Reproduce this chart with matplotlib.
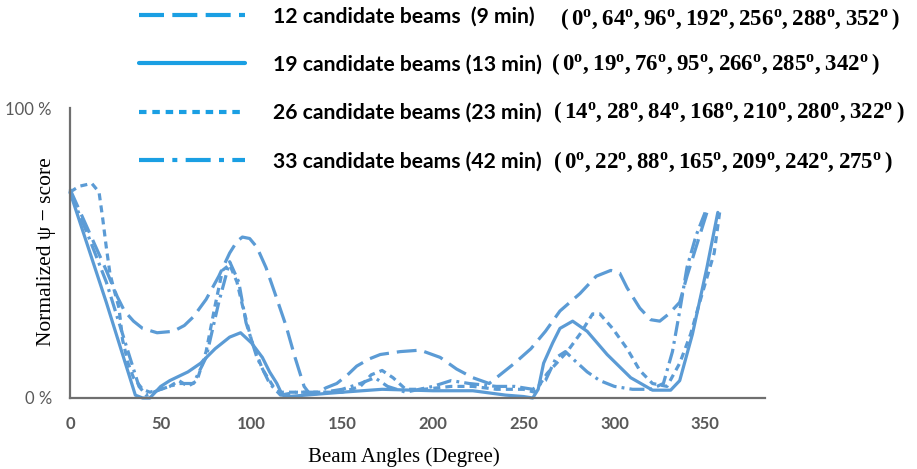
import matplotlib
matplotlib.use("Agg")
import matplotlib.pyplot as plt
from matplotlib.lines import Line2D

# beam angle (degree) vs normalized psi-score (%)
ang_12 = [0, 10, 20, 26, 30, 35, 40, 48, 57, 63, 68, 75, 82, 88, 92, 95, 99, 103, 108, 113,
          119, 124, 129, 132, 136, 141, 147, 153, 158, 165, 171, 182, 193, 204, 213, 222, 231,
          237, 245, 254, 262, 270, 281, 290, 298, 303, 307, 314, 320, 325, 330, 336, 340, 345, 351]
score_12 = [72, 58, 44, 35, 30, 26.5, 24, 22.5, 23, 25, 28, 34, 42, 50, 54, 55.5, 55, 52, 45, 36,
            25, 14, 4, 1.5, 1.5, 3.5, 5, 8, 11, 13.5, 15, 16, 16.5, 14, 10, 7, 5,
            8, 12, 17, 23, 30, 36, 42, 44, 43, 38, 31, 27, 26.5, 29, 33, 42, 52, 64]

ang_19 = [0, 10, 20, 30, 36, 40, 44, 50, 55, 65, 72, 80, 88, 94, 100, 106, 110, 114, 117, 120,
          130, 150, 172, 200, 222, 240, 250, 255, 258, 261, 266, 270, 277, 285, 296, 309, 321,
          331, 336, 343, 351, 357]
score_19 = [71, 52, 33, 13, 1, 0, 0, 4, 6, 9, 12, 17, 21, 22.5, 19, 14, 9, 5, 1, 0.5,
            1, 2, 3, 2.5, 2.5, 1, 0.5, 0, 3, 12, 19, 24, 26.5, 23, 15, 7, 2.7,
            2.7, 6, 22, 45, 64]

ang_26 = [0, 5, 12, 16, 18, 20, 22, 24, 27, 29, 32, 35, 40, 44, 50, 55, 60, 65, 70, 75, 80, 84,
          88, 92, 95, 100, 106, 112, 116, 125, 140, 150, 160, 166, 172, 178, 185, 195, 210, 222,
          235, 250, 256, 263, 274, 281, 288, 292, 299, 307, 314, 321, 329, 336, 342, 347, 355, 358]
score_26 = [71, 73, 74, 71, 62, 52, 43, 38, 31, 20, 12, 7, 3, 2, 3, 4, 6, 4, 6, 16, 32, 44,
            46, 40, 32, 20, 10, 4, 2, 2, 2, 2, 4, 8, 9.5, 7, 3, 3, 4, 4,
            3, 3, 2, 8.5, 16, 22, 29, 29, 24, 17, 9.5, 5, 4, 12, 22, 33, 50, 64]

ang_33 = [0, 10, 20, 30, 38, 42, 50, 60, 68, 75, 82, 88, 93, 97, 103, 110, 116, 125, 140, 150,
          160, 168, 175, 185, 200, 210, 220, 235, 245, 255, 262, 268, 273, 278, 285, 292, 300,
          310, 320, 327, 332, 336, 340, 345, 350]
score_33 = [71, 56, 40, 20, 4, 1, 3, 5, 5, 14, 33, 47, 40, 26, 14, 5, 1, 2, 2, 3,
            5, 7, 4, 2, 4, 6, 5, 4, 4, 3, 6, 14, 16, 13, 9, 6, 4,
            3, 3, 5, 16, 30, 45, 56, 64]

legend_labels = ["12 candidate beams  (9 min)", "19 candidate beams (13 min)",
                 "26 candidate beams (23 min)", "33 candidate beams (42 min)"]
beam_sets = [[0, 64, 96, 192, 256, 288, 352],
             [0, 19, 76, 95, 266, 285, 342],
             [14, 28, 84, 168, 210, 280, 322],
             [0, 22, 88, 165, 209, 242, 275]]

curve_color = "#5b9bd5"
legend_color = "#1a9fe3"

plt.rcParams["mathtext.fontset"] = "custom"
plt.rcParams["mathtext.rm"] = "Liberation Serif"
plt.rcParams["mathtext.bf"] = "Liberation Serif:bold"

fig = plt.figure(figsize=(9.17, 4.69), dpi=100)
ax = fig.add_axes([70 / 917, 1 - 398 / 469, 695 / 917, 290 / 469])

styles = [(6.2, 2.5), None, (2.2, 1.6), (4.7, 1.6, 0.9, 1.6)]
series = [(ang_12, score_12), (ang_19, score_19), (ang_26, score_26), (ang_33, score_33)]
for (a, s), d in zip(series, styles):
    line, = ax.plot(a, s, color=curve_color, lw=2.3, clip_on=False, solid_capstyle="round")
    if d is not None:
        line.set_dashes(d)

ax.set_xlim(0, 383)
ax.set_ylim(0, 100)
for side in ["top", "right"]:
    ax.spines[side].set_visible(False)
for side in ["left", "bottom"]:
    ax.spines[side].set_color("#6f6f6f")
    ax.spines[side].set_linewidth(1.6)

ax.set_xticks(range(0, 351, 50))
ax.set_yticks([0, 100])
ax.set_yticklabels(["0 %", "100 %"])
ax.tick_params(axis="x", length=0, pad=13, labelsize=12, labelcolor="#595959")
ax.tick_params(axis="y", length=0, pad=13, labelsize=12, labelcolor="#595959")
for t in ax.get_xticklabels():
    t.set_family("Lato")
    t.set_weight("bold")
for t in ax.get_yticklabels():
    t.set_family("Lato")

fig.text(47 / 917, 1 - 252 / 469, "Normalized \u03c8 \u2212 score", rotation=90,
         ha="center", va="center", family="Liberation Serif", fontsize=15.5)
fig.text(404 / 917, 1 - 457 / 469, "Beam Angles (Degree)", ha="center", va="center",
         family="Liberation Serif", fontsize=15)

# legend
handles = [
    Line2D([], [], color=legend_color, lw=3, dashes=(6, 2)),
    Line2D([], [], color=legend_color, lw=3, solid_capstyle="round"),
    Line2D([], [], color=legend_color, lw=3, dashes=(1.8, 1.4)),
    Line2D([], [], color=legend_color, lw=3, dashes=(6, 2, 1.2, 2)),
]
fig.legend(handles, legend_labels, loc="center left", bbox_to_anchor=(128 / 917, 1 - 89 / 469),
           frameon=False, borderpad=0, handlelength=5.05, handletextpad=1.3, labelspacing=1.34,
           prop={"family": "Lato", "weight": "bold", "size": 15.2})

list_x = [560, 551, 553, 553]
list_y = [19, 64, 112, 162]
for bx, by, beams in zip(list_x, list_y, beam_sets):
    body = ",".join(f"{b}^{{o}}" for b in beams)
    fig.text(bx / 917, 1 - by / 469, r"$\mathbf{(\," + body + r"\,)}$", ha="left", va="center",
             fontsize=16.5, color="black")

fig.savefig("out.png", dpi=100)
